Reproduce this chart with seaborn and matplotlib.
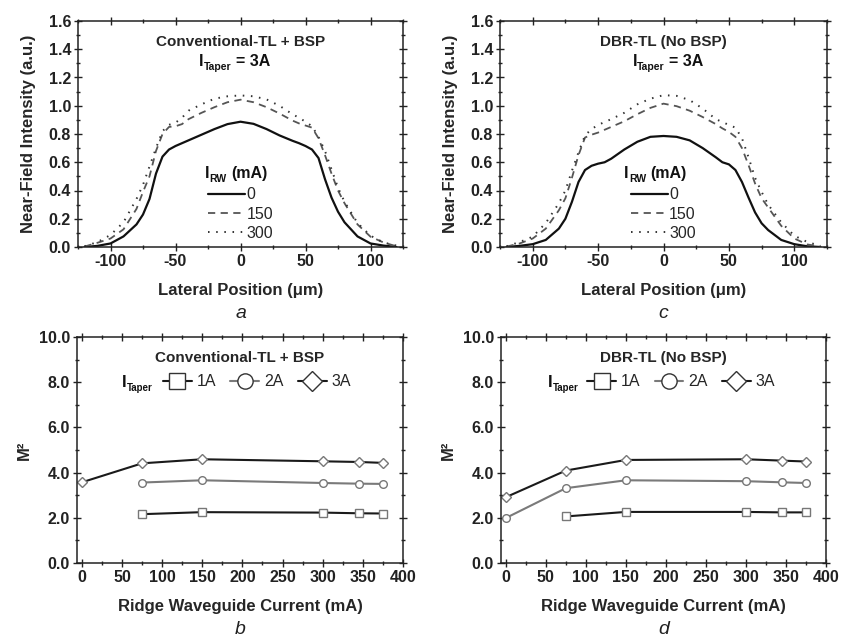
import matplotlib
matplotlib.use("Agg")
import matplotlib.pyplot as plt
import seaborn as sns
from matplotlib.ticker import MultipleLocator, FormatStrFormatter

# lateral position grid (um) for the near-field profiles
pos = [-120, -110, -100, -90, -80, -75, -70, -65, -60, -55, -50, -45, -40, -30, -20, -10,
       0, 10, 20, 30, 40, 45, 50, 55, 60, 65, 70, 75, 80, 90, 100, 110, 120]

# panel a: Conventional-TL + BSP, I_taper = 3A
nf_a_0 = [0.0, 0.008, 0.025, 0.075, 0.16, 0.23, 0.34, 0.52, 0.64, 0.69, 0.715, 0.735, 0.755, 0.795, 0.835, 0.87,
          0.887, 0.872, 0.835, 0.79, 0.752, 0.735, 0.715, 0.69, 0.63, 0.48, 0.35, 0.25, 0.175, 0.075, 0.025, 0.01, 0.0]
nf_a_150 = [0.003, 0.03, 0.06, 0.125, 0.27, 0.39, 0.50, 0.68, 0.80, 0.85, 0.855, 0.87, 0.905, 0.95, 0.99, 1.025,
            1.043, 1.025, 0.99, 0.945, 0.895, 0.875, 0.86, 0.845, 0.77, 0.65, 0.52, 0.40, 0.31, 0.16, 0.073, 0.032, 0.005]
nf_a_300 = [0.005, 0.035, 0.085, 0.175, 0.34, 0.44, 0.57, 0.70, 0.82, 0.865, 0.88, 0.915, 0.965, 1.01, 1.05, 1.067,
            1.073, 1.067, 1.045, 1.0, 0.94, 0.915, 0.887, 0.855, 0.78, 0.68, 0.55, 0.42, 0.32, 0.17, 0.08, 0.032, 0.01]

# panel c: DBR-TL (No BSP), I_taper = 3A
nf_c_0 = [0.0, 0.008, 0.02, 0.05, 0.13, 0.2, 0.32, 0.46, 0.545, 0.575, 0.59, 0.60, 0.625, 0.69, 0.745, 0.78,
          0.786, 0.78, 0.755, 0.70, 0.635, 0.60, 0.585, 0.545, 0.46, 0.35, 0.245, 0.168, 0.12, 0.05, 0.02, 0.005, 0.0]
nf_c_150 = [0.003, 0.025, 0.06, 0.13, 0.26, 0.345, 0.49, 0.65, 0.775, 0.795, 0.81, 0.83, 0.85, 0.89, 0.94, 0.985,
            1.015, 0.997, 0.965, 0.92, 0.87, 0.84, 0.815, 0.78, 0.70, 0.58, 0.45, 0.345, 0.28, 0.15, 0.06, 0.018, 0.003]
nf_c_300 = [0.005, 0.035, 0.073, 0.17, 0.31, 0.40, 0.54, 0.67, 0.79, 0.835, 0.864, 0.885, 0.905, 0.95, 1.01, 1.05,
            1.075, 1.07, 1.04, 0.98, 0.905, 0.885, 0.864, 0.845, 0.77, 0.635, 0.49, 0.39, 0.30, 0.175, 0.08, 0.035, 0.008]

# M^2 vs ridge waveguide current (mA)
i_rw = [0, 75, 150, 300, 345, 375]
m2_b_1A = [None, 2.16, 2.25, 2.23, 2.2, 2.19]
m2_b_2A = [None, 3.56, 3.66, 3.54, 3.51, 3.5]
m2_b_3A = [3.57, 4.41, 4.59, 4.5, 4.47, 4.43]
m2_d_1A = [None, 2.06, 2.26, 2.26, 2.24, 2.24]
m2_d_2A = [1.99, 3.31, 3.66, 3.62, 3.57, 3.54]
m2_d_3A = [2.91, 4.09, 4.56, 4.59, 4.53, 4.49]

sns.set_theme(style="ticks")
plt.rcParams["font.family"] = ["Liberation Sans", "DejaVu Sans"]
plt.rcParams["font.weight"] = "bold"
plt.rcParams["axes.unicode_minus"] = False

fig = plt.figure(figsize=(8.41, 6.41), dpi=100)
ax_a = fig.add_axes([78 / 841, 1 - 247 / 641, 325 / 841, 226 / 641])
ax_c = fig.add_axes([500 / 841, 1 - 247 / 641, 327 / 841, 226 / 641])
ax_b = fig.add_axes([77 / 841, 1 - 563 / 641, 326 / 841, 226 / 641])
ax_d = fig.add_axes([501 / 841, 1 - 563 / 641, 325 / 841, 226 / 641])


def sub_text(ax, x, y, main, sub, rest=None, size=11.5, subsize=7.5):
    # "I" with a small, low subscript, then the rest of the line
    t1 = ax.text(x, y, main, transform=ax.transAxes, ha="left", va="bottom",
                 fontsize=size, fontweight="bold", color="#111111")
    t2 = ax.annotate(sub, xy=(1, 0), xycoords=t1, xytext=(0.3, -2.0), textcoords="offset points",
                     ha="left", va="bottom", fontsize=subsize, fontweight="bold", color="#111111")
    if rest:
        ax.annotate(rest, xy=(1, 0), xycoords=(t2, t1), xytext=(3.0, 0), textcoords="offset points",
                    ha="left", va="bottom", fontsize=size, fontweight="bold", color="#111111")


def style_axes(ax, xmaj, xmin, ymaj, ymin, fmt):
    ax.xaxis.set_major_locator(MultipleLocator(xmaj))
    ax.xaxis.set_minor_locator(MultipleLocator(xmin))
    ax.yaxis.set_major_locator(MultipleLocator(ymaj))
    ax.yaxis.set_minor_locator(MultipleLocator(ymin))
    ax.yaxis.set_major_formatter(FormatStrFormatter(fmt))
    ax.tick_params(which="both", direction="inout", top=True, right=True, colors="#222222",
                   labelsize=11.5, width=1.0)
    ax.tick_params(which="major", length=6, pad=2)
    ax.tick_params(which="minor", length=3.5)
    for s in ax.spines.values():
        s.set_linewidth(1.1)
        s.set_color("#222222")
    for lab in ax.get_xticklabels() + ax.get_yticklabels():
        lab.set_fontweight("bold")


def near_field(ax, y0, y150, y300, title, lx):
    sns.lineplot(x=pos, y=y0, ax=ax, color="#111111", lw=1.6, label="0")
    sns.lineplot(x=pos, y=y150, ax=ax, color="#555555", lw=1.3, label="150", linestyle=(0, (4, 3)))
    sns.lineplot(x=pos, y=y300, ax=ax, color="#333333", lw=1.4, label="300", linestyle=(0, (0.8, 3.4)))
    ax.set_xlim(-125, 125)
    ax.set_ylim(0, 1.6)
    style_axes(ax, 50, 25, 0.2, 0.1, "%.1f")
    ax.set_xlabel("Lateral Position (\u03bcm)", fontsize=12, fontweight="bold", labelpad=10)
    ax.set_ylabel("Near-Field Intensity (a.u.)", fontsize=12, fontweight="bold", labelpad=9)
    ax.text(0.5, 0.907, title, transform=ax.transAxes, ha="center", va="center", fontsize=11)
    sub_text(ax, lx[0], 0.788, "I", "Taper", "= 3A", size=11.5)
    sub_text(ax, lx[1], 0.29, "I", "RW", "(mA)", size=11.5)
    ax.legend(loc="upper left", bbox_to_anchor=(lx[2], 0.265), frameon=False,
              prop={"weight": "normal", "size": 11.5},
              handlelength=2.3, handletextpad=0.1, labelspacing=0.28,
              borderpad=0, borderaxespad=0)


def m2_panel(ax, y1, y2, y3, title, ititle_x, leg_x):
    mk = dict(markersize=5.5, markerfacecolor="white", markeredgecolor="#777777", markeredgewidth=1.0)
    sns.lineplot(x=i_rw, y=y1, ax=ax, color="#1a1a1a", lw=1.5, marker="s", label="1A", **mk)
    sns.lineplot(x=i_rw, y=y2, ax=ax, color="#7a7a7a", lw=1.5, marker="o", label="2A", **mk)
    sns.lineplot(x=i_rw, y=y3, ax=ax, color="#1a1a1a", lw=1.5, marker="D", label="3A",
                 **dict(mk, markersize=5.0))
    ax.set_xlim(-6, 400)
    ax.set_ylim(0, 10)
    style_axes(ax, 50, 25, 2.0, 1.0, "%.1f")
    ax.set_xlabel("Ridge Waveguide Current (mA)", fontsize=12, fontweight="bold", labelpad=10)
    ax.set_ylabel("M\u00b2", fontsize=12, fontweight="bold", labelpad=5)
    ax.text(0.5, 0.907, title, transform=ax.transAxes, ha="center", va="center", fontsize=11)
    sub_text(ax, ititle_x, 0.765, "I", "Taper", None, size=12, subsize=7)
    leg = ax.legend(loc="center left", bbox_to_anchor=(leg_x, 0.802), ncol=3, frameon=False,
                    prop={"weight": "normal", "size": 11.5}, markerscale=2.0,
                    handlelength=1.8, handletextpad=0.3, columnspacing=0.9,
                    borderpad=0, borderaxespad=0)
    for h in leg.legend_handles:
        h.set_markeredgecolor("#333333")


near_field(ax_a, nf_a_0, nf_a_150, nf_a_300, "Conventional-TL + BSP", (0.372, 0.39, 0.40))
near_field(ax_c, nf_c_0, nf_c_150, nf_c_300, "DBR-TL (No BSP)", (0.405, 0.38, 0.40))
m2_panel(ax_b, m2_b_1A, m2_b_2A, m2_b_3A, "Conventional-TL + BSP", 0.138, 0.264)
m2_panel(ax_d, m2_d_1A, m2_d_2A, m2_d_3A, "DBR-TL (No BSP)", 0.145, 0.265)

for ax, letter, yy in [(ax_a, "a", 313), (ax_c, "c", 313), (ax_b, "b", 629), (ax_d, "d", 629)]:
    bb = ax.get_position()
    fig.text(bb.x0 + bb.width * 0.5, 1 - yy / 641, letter, ha="center", va="center",
             fontsize=14, fontstyle="italic", fontweight="normal", color="#222222")

fig.savefig("out.png", dpi=100, facecolor="white")
